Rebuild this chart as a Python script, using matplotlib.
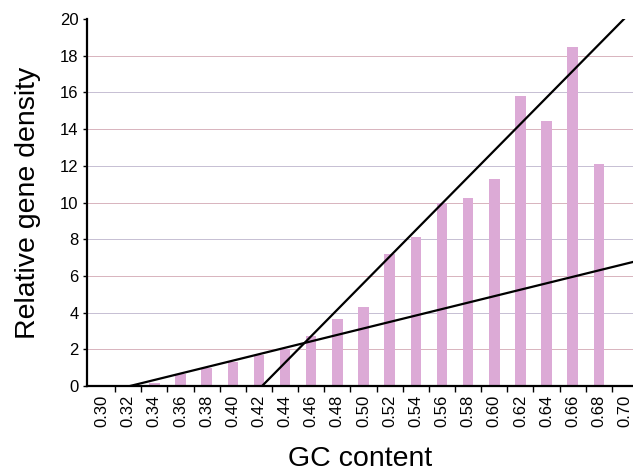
import matplotlib
matplotlib.use("Agg")
import matplotlib.pyplot as plt
import numpy as np

plt.rcParams['font.family'] = ['Liberation Sans', 'DejaVu Sans']

# GC content bins and relative gene density
gc = [0.30, 0.32, 0.34, 0.36, 0.38, 0.40, 0.42, 0.44, 0.46, 0.48, 0.50,
      0.52, 0.54, 0.56, 0.58, 0.60, 0.62, 0.64, 0.66, 0.68, 0.70]
density = [0.0, 0.0, 0.15, 0.65, 0.98, 1.33, 1.69, 2.0, 2.75, 3.64, 4.33,
           7.2, 8.1, 9.95, 10.25, 11.3, 15.8, 14.45, 18.5, 12.1, 0.0]

# two linear fits: (x where y = 0, x at end of line, y at end of line)
steep_fit = (0.4224, 0.6992, 20.0)
shallow_fit = (0.3214, 0.7061, 6.76)

grid_levels = [2, 4, 6, 8, 10, 12, 14, 16, 18]

fig = plt.figure(figsize=(6.33, 4.72), dpi=100)
ax = fig.add_axes([0.1374, 0.1822, 0.8626, 0.7775])

for k, lv in enumerate(grid_levels):
    col = '#cc9aa8' if k % 2 == 0 else '#b3a9c4'
    ax.axhline(lv, color=col, lw=0.7, alpha=0.75, zorder=0)

ax.bar(gc, density, width=0.008, color='#dcaad6', zorder=2)

for x0, x1, y1 in (steep_fit, shallow_fit):
    ax.plot([x0, x1], [0, y1], color='black', lw=1.6, zorder=3)

ax.set_xlim(0.2885, 0.7061)
ax.set_ylim(0, 20)

ax.set_xticks(gc)
ax.set_xticklabels(['%.2f' % g for g in gc], rotation=90, fontsize=12)
ax.set_xticks(np.array(gc[:-1]) + 0.01, minor=True)
ax.tick_params(axis='x', which='major', length=0, pad=6)
ax.tick_params(axis='x', which='minor', length=4, width=1)
ax.set_yticks(range(0, 21, 2))
ax.tick_params(axis='y', labelsize=12, length=3, width=1, pad=3)

for s in ['top', 'right']:
    ax.spines[s].set_visible(False)
ax.spines['left'].set_linewidth(1.6)
ax.spines['bottom'].set_linewidth(1.6)

ax.set_ylabel('Relative gene density', fontsize=20.5, labelpad=14)
ax.set_xlabel('GC content', fontsize=20.5, labelpad=14)

fig.savefig('out.png', dpi=100)
